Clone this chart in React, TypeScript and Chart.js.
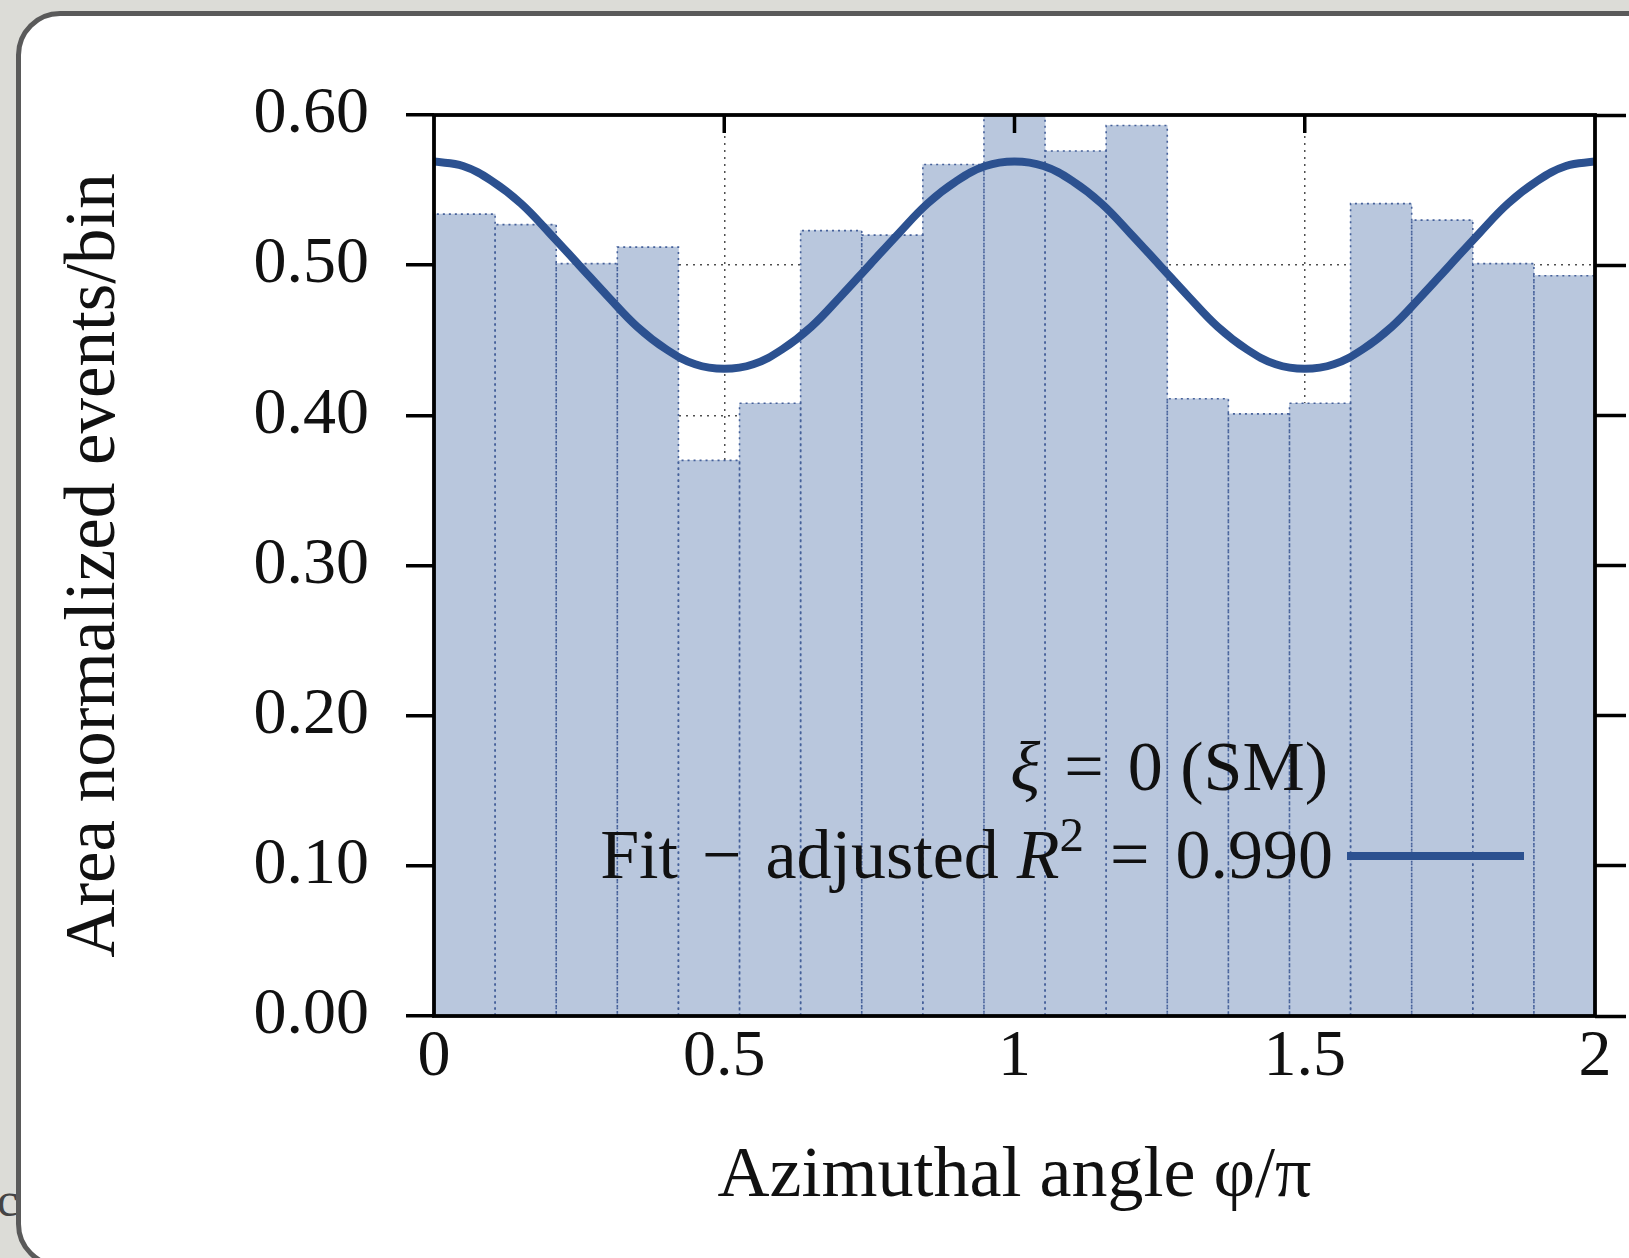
import React, { useEffect, useRef } from "react";
import { Chart, registerables } from "chart.js";

Chart.register(...registerables);

// ---- data ----
const binLabels = [
  "0.00–0.11", "0.11–0.21", "0.21–0.32", "0.32–0.42", "0.42–0.53",
  "0.53–0.63", "0.63–0.74", "0.74–0.84", "0.84–0.95", "0.95–1.05",
  "1.05–1.16", "1.16–1.26", "1.26–1.37", "1.37–1.47", "1.47–1.58",
  "1.58–1.68", "1.68–1.79", "1.79–1.89", "1.89–2.00",
];
const binValues = [
  0.534, 0.527, 0.501, 0.512, 0.370, 0.408, 0.523, 0.520, 0.567, 0.604,
  0.576, 0.593, 0.411, 0.401, 0.408, 0.541, 0.530, 0.501, 0.493,
];
const fitX = [
  0, 0.05, 0.1, 0.15, 0.2, 0.25, 0.3, 0.35, 0.4, 0.45, 0.5,
  0.55, 0.6, 0.65, 0.7, 0.75, 0.8, 0.85, 0.9, 0.95, 1.0,
  1.05, 1.1, 1.15, 1.2, 1.25, 1.3, 1.35, 1.4, 1.45, 1.5,
  1.55, 1.6, 1.65, 1.7, 1.75, 1.8, 1.85, 1.9, 1.95, 2.0,
];
const fitY = [
  0.569, 0.566, 0.556, 0.541, 0.521, 0.500, 0.479, 0.459, 0.444, 0.434, 0.431,
  0.434, 0.444, 0.459, 0.479, 0.500, 0.521, 0.541, 0.556, 0.566, 0.569,
  0.566, 0.556, 0.541, 0.521, 0.500, 0.479, 0.459, 0.444, 0.434, 0.431,
  0.434, 0.444, 0.459, 0.479, 0.500, 0.521, 0.541, 0.556, 0.566, 0.569,
];
const yTickValues = [0, 0.1, 0.2, 0.3, 0.4, 0.5, 0.6];
const xTickValues = [0, 0.5, 1, 1.5, 2];
const xTickLabels = ["0", "0.5", "1", "1.5", "2"];
const xTitle = "Azimuthal angle φ/π";
const yTitle = "Area normalized events/bin";

type Seg = { t?: string; it?: boolean; sup?: boolean; gap?: number };
const legendTitle: Seg[] = [
  { t: "ξ", it: true }, { gap: 24 }, { t: "=" }, { gap: 24 }, { t: "0 (SM)" },
];
const legendLabel: Seg[] = [
  { t: "Fit" }, { gap: 24 }, { t: "−" }, { gap: 24 }, { t: "adjusted" }, { gap: 18 },
  { t: "R", it: true }, { t: "2", sup: true }, { gap: 26 }, { t: "=" }, { gap: 26 },
  { t: "0.990" },
];

// ---- styles ----
const SERIF = '"Liberation Serif", "Times New Roman", serif';
const BAR_FILL = "#b9c7dd";
const BAR_EDGE = "#46619a";
const LINE_COLOR = "#2c5190";
const GRID_COLOR = "rgba(70,70,70,0.95)";
const LEGEND_SIZE = 70;

function drawRich(ctx: CanvasRenderingContext2D, segs: Seg[], rightX: number, baseY: number, size: number) {
  const fontFor = (s: Seg) =>
    `${s.it ? "italic " : ""}${s.sup ? Math.round(size * 0.7) : size}px ${SERIF}`;
  const widthOf = (s: Seg) => {
    if (s.gap !== undefined) return s.gap;
    ctx.font = fontFor(s);
    return ctx.measureText(s.t || "").width;
  };
  let total = 0;
  for (const s of segs) total += widthOf(s);
  let x = rightX - total;
  ctx.textAlign = "left";
  ctx.textBaseline = "alphabetic";
  ctx.fillStyle = "#111";
  for (const s of segs) {
    const w = widthOf(s);
    if (s.t) {
      ctx.font = fontFor(s);
      ctx.fillText(s.t, x, s.sup ? baseY - size * 0.38 : baseY);
    }
    x += w;
  }
}

const decorPlugin = {
  id: "decor",
  afterDatasetDraw(chart: any, args: any) {
    if (args.meta.type !== "bar") return;
    const { ctx, chartArea: ca } = chart;
    ctx.save();
    ctx.beginPath();
    ctx.rect(ca.left, ca.top, ca.right - ca.left, ca.bottom - ca.top);
    ctx.clip();
    ctx.strokeStyle = BAR_EDGE;
    ctx.lineWidth = 1.6;
    ctx.setLineDash([2, 4]);
    for (const el of args.meta.data) {
      const { x, y, base, width } = el.getProps(["x", "y", "base", "width"], true);
      const l = x - width / 2;
      const r = x + width / 2;
      ctx.beginPath();
      ctx.moveTo(l, base);
      ctx.lineTo(l, y);
      ctx.lineTo(r, y);
      ctx.lineTo(r, base);
      ctx.stroke();
    }
    ctx.restore();
  },
  afterDraw(chart: any) {
    const { ctx, chartArea: ca, scales } = chart;
    ctx.save();
    // frame
    ctx.strokeStyle = "#000";
    ctx.lineWidth = 3.8;
    ctx.setLineDash([]);
    ctx.strokeRect(ca.left, ca.top, ca.right - ca.left, ca.bottom - ca.top);
    // inward top ticks
    const xs = scales.x;
    ctx.lineWidth = 3.5;
    for (const t of xs.ticks) {
      if (t.value <= xs.min || t.value >= xs.max) continue;
      const px = xs.getPixelForValue(t.value);
      ctx.beginPath();
      ctx.moveTo(px, ca.top);
      ctx.lineTo(px, ca.top + 18);
      ctx.stroke();
    }
    // legend
    const rightX = ca.right - 262;
    const b1 = ca.top + 675;
    const b2 = ca.top + 763;
    drawRich(ctx, legendTitle, rightX - 5, b1, LEGEND_SIZE);
    drawRich(ctx, legendLabel, rightX, b2, LEGEND_SIZE);
    const ds = chart.data.datasets[0];
    ctx.strokeStyle = ds.borderColor;
    ctx.lineWidth = ds.borderWidth;
    ctx.beginPath();
    ctx.moveTo(ca.right - 248, b2 - 22);
    ctx.lineTo(ca.right - 71, b2 - 22);
    ctx.stroke();
    ctx.restore();
  },
};

export default function App() {
  const ref = useRef<HTMLCanvasElement | null>(null);

  useEffect(() => {
    if (!ref.current) return;
    const chart = new Chart(ref.current, {
      type: "bar",
      data: {
        labels: binLabels,
        datasets: [
          {
            type: "line",
            label: "Fit",
            data: fitX.map((x, i) => ({ x, y: fitY[i] })),
            xAxisID: "x",
            yAxisID: "y",
            borderColor: LINE_COLOR,
            borderWidth: 8,
            pointRadius: 0,
            tension: 0.4,
            fill: false,
            order: 0,
          } as any,
          {
            type: "bar",
            label: "ξ = 0 (SM)",
            data: binValues,
            xAxisID: "xb",
            yAxisID: "y",
            backgroundColor: BAR_FILL,
            borderWidth: 0,
            barPercentage: 1,
            categoryPercentage: 1,
            grouped: false,
            order: 1,
          } as any,
        ],
      },
      options: {
        responsive: false,
        animation: false,
        events: [],
        layout: { padding: { top: 115, left: 0, right: 0, bottom: 0 } },
        plugins: {
          legend: { display: false },
          tooltip: { enabled: false },
          title: { display: false },
        },
        scales: {
          xb: {
            type: "category",
            position: "bottom",
            display: false,
            offset: true,
            ticks: { autoSkip: false, display: false },
          },
          x: {
            type: "linear",
            position: "bottom",
            min: 0,
            max: 2,
            offset: false,
            afterBuildTicks: (s: any) => {
              s.ticks = xTickValues.map((v) => ({ value: v }));
            },
            ticks: {
              font: { family: SERIF, size: 66 },
              color: "#111",
              padding: 2,
              maxRotation: 0,
              autoSkip: false,
              callback: (_v: any, i: number) => xTickLabels[i],
            },
            grid: {
              color: GRID_COLOR,
              lineWidth: 1.5,
              drawTicks: false,
              offset: false,
            },
            border: { display: false, dash: [2, 5] },
            title: {
              display: true,
              text: xTitle,
              font: { family: SERIF, size: 72 },
              color: "#111",
              padding: { top: 0, bottom: 38 },
            },
            afterFit: (s: any) => {
              s.height = 242;
            },
          },
          y: {
            type: "linear",
            position: "left",
            min: 0,
            max: 0.6,
            afterBuildTicks: (s: any) => {
              s.ticks = yTickValues.map((v) => ({ value: v }));
            },
            ticks: {
              font: { family: SERIF, size: 66 },
              color: "#111",
              padding: 37,
              callback: (v: any) => Number(v).toFixed(2),
            },
            grid: {
              color: GRID_COLOR,
              lineWidth: 1.5,
              drawTicks: true,
              tickLength: 28,
              tickWidth: 3.5,
              tickColor: "#000",
            },
            border: { display: false, dash: [2, 5] },
            title: {
              display: true,
              text: yTitle,
              font: { family: SERIF, size: 71 },
              color: "#111",
              padding: { top: 53, bottom: 0 },
            },
            afterFit: (s: any) => {
              s.width = 434;
            },
          },
          y2: {
            type: "linear",
            position: "right",
            min: 0,
            max: 0.6,
            afterBuildTicks: (s: any) => {
              s.ticks = yTickValues.map((v) => ({ value: v }));
            },
            ticks: { display: false },
            grid: {
              drawOnChartArea: false,
              drawTicks: true,
              tickLength: 31,
              tickWidth: 3.5,
              tickColor: "#000",
            },
            border: { display: false },
            afterFit: (s: any) => {
              s.width = 34;
            },
          },
        },
      } as any,
      plugins: [decorPlugin],
    });
    return () => chart.destroy();
  }, []);

  return (
    <div
      style={{
        position: "fixed",
        left: 0,
        top: 0,
        width: 1629,
        height: 1258,
        overflow: "hidden",
        background: "#dcdcd7",
      }}
    >
      <span
        style={{
          position: "absolute",
          left: -3,
          top: 1172,
          fontFamily: SERIF,
          fontSize: 48,
          color: "#444",
        }}
      >
        cl
      </span>
      <div
        style={{
          position: "absolute",
          left: 16,
          top: 11,
          width: 1700,
          height: 1257,
          boxSizing: "border-box",
          border: "5px solid #5a5a5a",
          borderRadius: 44,
          background: "#fff",
        }}
      />
      <canvas
        ref={ref}
        width={1629}
        height={1258}
        style={{ position: "absolute", left: 0, top: 0, width: 1629, height: 1258 }}
      />
    </div>
  );
}
